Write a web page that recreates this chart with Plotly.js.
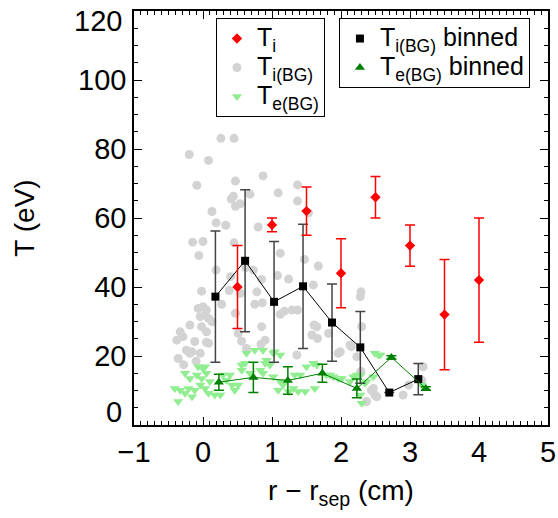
<!DOCTYPE html>
<html>
<head>
<meta charset="utf-8">
<script src="https://cdn.plot.ly/plotly-3.0.1.min.js"></script>
<style>html,body{margin:0;padding:0;background:#fff;}#chart{width:558px;height:518px;}</style>
</head>
<body>
<div id="chart"></div>
<script>
// T_i (red diamonds with error bars)
const tiX = [0.5, 1.0, 1.5, 2.0, 2.5, 3.0, 3.5, 4.0];
const tiY = [40, 58, 62, 44, 66, 52, 32, 42];
const tiErr = [12, 2, 7, 10, 6, 6, 16, 18];

// T_i(BG) raw (grey circles)
const tibgX = [0.26,0.45,-0.20,0.08,-0.09,0.47,0.87,1.09,1.37,1.37,0.44,0.41,0.68,0.54,0.47,0.13,0.19,0.33,0.80,-0.15,0.00,-0.06,0.45,1.12,
  1.53,1.47,1.67,1.60,2.29,2.28,0.19,0.62,0.73,0.85,1.08,1.24,0.40,0.38,
  -0.02,0.54,0.47,0.27,0.78,0.75,0.86,1.12,1.18,1.29,1.37,
  -0.07,0.00,0.05,-0.04,0.03,0.08,0.13,-0.19,-0.02,0.05,-0.33,-0.38,-0.29,-0.12,0.05,-0.24,-0.19,-0.04,-0.36,0.56,0.90,0.84,0.63,1.36,
  0.08,-0.16,0.51,0.85,1.58,1.65,1.99,-0.28,-0.10,
  1.61,1.66,1.82,1.96,2.13,2.23,2.30,2.28,2.44,2.47,2.49,2.52,2.37,2.98,2.90,3.19,3.17,2.15,2.29];
const tibgY = [83.1,83.1,78.4,76.7,69.5,70.7,72.2,67.3,69.6,64.9,66.3,65.5,66.9,64.1,63.4,61.9,58.6,57.9,57.4,53.0,53.2,49.1,52.8,49.8,
  61.5,48.0,46.1,40.6,38.6,37.2,44.9,45.6,44.9,42.2,43.3,42.3,43.0,39.0,
  38.8,38.2,32.4,35.0,38.6,35.0,35.4,32.1,33.0,33.3,33.3,
  33.8,34.3,33.3,31.4,31.9,30.9,29.9,29.0,28.5,27.0,27.0,24.6,25.6,24.2,24.0,21.7,20.8,20.8,19.3,24.3,24.6,23.4,22.2,20.3,
  23.7,21.2,26.6,28.5,26.1,28.5,21.2,17.5,18.5,
  29.0,25.1,26.6,20.8,23.2,19.8,28.5,15.0,10.1,10.6,8.7,8.2,6.8,11.6,8.7,16.9,13.0,22.7,15.5];

// T_e(BG) raw (light green down-triangles)
const tebgX = [-0.33,-0.41,-0.36,-0.26,-0.21,-0.16,-0.12,-0.26,-0.19,-0.09,-0.07,0.00,-0.02,0.05,0.10,-0.04,0.03,0.08,0.17,0.25,
  0.29,0.34,0.39,0.42,0.46,0.51,0.56,0.61,0.68,0.75,0.83,0.87,0.92,0.97,1.04,1.02,1.12,1.09,1.16,1.24,1.31,1.41,1.50,1.60,1.65,1.62,
  1.79,1.89,2.01,2.18,2.28,2.28,2.30,2.35,1.33,1.38,1.48,1.84,1.96,2.13,2.23,2.49,2.57,2.37,2.54,2.47,3.17,
  0.63,0.87,1.02,1.12,0.56,0.90,0.03];
const tebgY = [10.1,10.6,6.8,9.2,10.6,8.2,10.1,15.0,13.5,14.5,16.9,16.4,13.5,15.0,12.6,11.6,10.6,9.2,8.7,8.7,
  14.5,13.0,14.5,11.6,10.1,11.6,15.9,17.9,15.0,21.7,15.9,15.0,18.8,17.4,21.2,14.0,12.6,10.1,11.6,9.7,10.6,14.5,16.9,17.9,17.4,10.6,
  14.5,14.0,13.5,14.0,14.5,8.7,6.3,12.1,14.5,9.7,9.7,14.5,13.5,12.6,14.5,20.8,20.3,12.6,20.3,14.0,11.6,
  20.8,21.7,20.8,20.3,17.4,17.9,16.9];

// T_i(BG) binned (black squares)
const binTiX = [0.18, 0.61, 1.03, 1.45, 1.87, 2.28, 2.70, 3.12];
const binTiY = [37.2, 47.6, 35.7, 40.2, 29.7, 22.5, 9.4, 13.3];
const binTiErr = [19, 20.6, 17.5, 18, 11.2, 10.4, 0, 4.5];

// T_e(BG) binned (dark green triangles)
const binTeX = [0.23, 0.73, 1.23, 1.73, 2.23, 2.73, 3.23];
const binTeY = [12.4, 13.8, 12.9, 15.0, 10.6, 19.6, 10.6];
const binTeErr = [2.3, 4.4, 4.0, 2.6, 2.7, 0.5, 0.5];

// tick values and labels
const xTicks = [-1, 0, 1, 2, 3, 4, 5];
const yTicks = [0, 20, 40, 60, 80, 100, 120];
const yTickText = ['0', '20', '40', '60', '80', '100', '120'];

const FONT = 'Liberation Sans, Arial, Helvetica, sans-serif';
const big = s => '<span style="font-size:25px">' + s + '</span>';

const traces = [
  {x: tibgX, y: tibgY, mode: 'markers', type: 'scatter', name: big('T<sub>i(BG)</sub>'),
   marker: {symbol: 'circle', size: 9, color: '#d3d3d3'}, legend: 'legend', legendrank: 2},
  {x: tebgX, y: tebgY, mode: 'markers', type: 'scatter', name: big('T<sub>e(BG)</sub>'),
   marker: {symbol: 'triangle-down', size: 9, color: '#90ee90'}, legend: 'legend', legendrank: 3},
  {x: binTiX, y: binTiY, mode: 'lines', type: 'scatter', showlegend: false,
   line: {color: 'black', width: 1}},
  {x: binTiX, y: binTiY, mode: 'markers', type: 'scatter', name: big('T<sub>i(BG)</sub> binned'),
   marker: {symbol: 'square', size: 8, color: 'black'},
   error_y: {type: 'data', array: binTiErr, visible: true, color: '#444', thickness: 1.5, width: 5},
   legend: 'legend2', legendrank: 1},
  {x: binTeX, y: binTeY, mode: 'lines', type: 'scatter', showlegend: false,
   line: {color: 'green', width: 1}},
  {x: binTeX, y: binTeY, mode: 'markers', type: 'scatter', name: big('T<sub>e(BG)</sub> binned'),
   marker: {symbol: 'triangle-up', size: 9, color: 'green'},
   error_y: {type: 'data', array: binTeErr, visible: true, color: 'green', thickness: 1.5, width: 5},
   legend: 'legend2', legendrank: 2},
  {x: tiX, y: tiY, mode: 'markers', type: 'scatter', name: big('T<sub>i</sub>'),
   marker: {symbol: 'diamond', size: 8, color: 'red'},
   error_y: {type: 'data', array: tiErr, visible: true, color: 'red', thickness: 1.5, width: 5},
   legend: 'legend', legendrank: 1}
];

const legendBase = {
  yanchor: 'top', xanchor: 'left', y: 0.983,
  bordercolor: 'black', borderwidth: 1, bgcolor: 'white',
  font: {family: FONT, size: 20, color: 'black'},
  itemwidth: 30, tracegroupgap: 0
};

const minorX = {dtick: 0.1, tick0: -1, ticks: 'inside', ticklen: 4, tickwidth: 1, tickcolor: '#000'};
const minorY = {dtick: 5, tick0: 0, ticks: 'inside', ticklen: 4, tickwidth: 1, tickcolor: '#000'};

// end labels of the y axis sit inside the frame (as in the reference)
const endIdx = [0, yTicks.length - 1];
const yTickTextShown = yTickText.map((t, i) => endIdx.includes(i) ? '' : t);
const annotations = endIdx.map(i => ({
  xref: 'paper', yref: 'y', x: 0, y: yTicks[i], text: yTickText[i],
  showarrow: false, xanchor: 'right', yanchor: 'middle', xshift: -10,
  yshift: i === 0 ? 13 : -10,
  font: {family: FONT, size: 29, color: 'black'}
}));

const layout = {
  width: 558, height: 518,
  margin: {l: 134, r: 10, t: 11, b: 93},
  paper_bgcolor: 'white', plot_bgcolor: 'white',
  font: {family: FONT, color: 'black'},
  showlegend: true,
  legend: Object.assign({}, legendBase, {x: 0.198}),
  legend2: Object.assign({}, legendBase, {x: 0.495}),
  annotations: annotations,
  xaxis: {
    range: [-1, 5], tickmode: 'array', tickvals: xTicks,
    ticks: 'inside', ticklen: 8, tickwidth: 1, tickcolor: '#000',
    minor: minorX,
    showline: true, linecolor: '#000', linewidth: 1.5, mirror: 'allticks',
    showgrid: false, zeroline: false,
    tickfont: {family: FONT, size: 29, color: 'black'},
    title: {text: 'r − r<sub>sep</sub> (cm)', font: {family: FONT, size: 28, color: 'black'}, standoff: 14}
  },
  yaxis: {
    range: [0, 120], tickmode: 'array', tickvals: yTicks, ticktext: yTickTextShown,
    ticks: 'inside', ticklen: 8, tickwidth: 1, tickcolor: '#000',
    minor: minorY,
    showline: true, linecolor: '#000', linewidth: 1.5, mirror: 'allticks',
    showgrid: false, zeroline: false,
    tickfont: {family: FONT, size: 29, color: 'black'},
    title: {text: 'T (eV)', font: {family: FONT, size: 28, color: 'black'}, standoff: 35}
  }
};

Plotly.newPlot('chart', traces, layout, {displayModeBar: false});
</script>
</body>
</html>
